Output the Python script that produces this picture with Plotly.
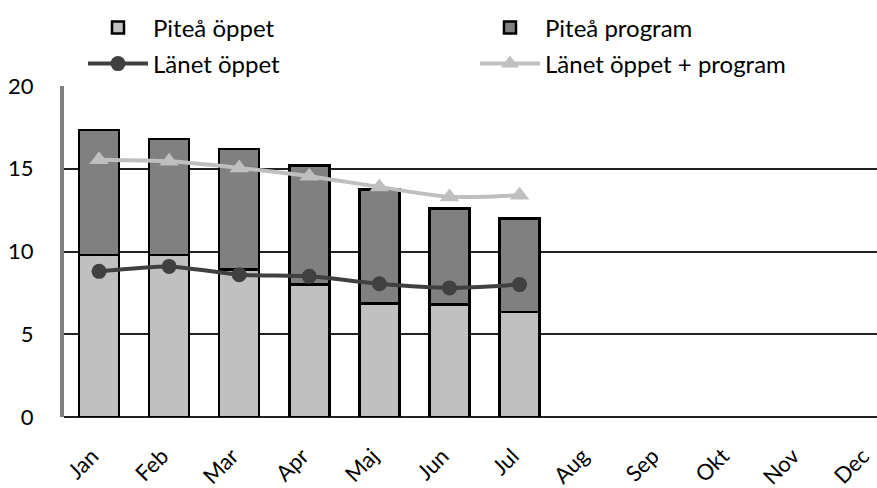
import plotly.graph_objects as go

months = ["Jan", "Feb", "Mar", "Apr", "Maj", "Jun", "Jul", "Aug", "Sep", "Okt", "Nov", "Dec"]
pitea_oppet = [9.8, 9.8, 8.9, 8.0, 6.85, 6.8, 6.35, None, None, None, None, None]
pitea_program = [7.55, 7.0, 7.3, 7.2, 6.9, 5.8, 5.65, None, None, None, None, None]
lanet_oppet = [8.8, 9.1, 8.6, 8.5, 8.05, 7.8, 8.0, None, None, None, None, None]
lanet_total = [15.55, 15.45, 15.05, 14.55, 13.9, 13.3, 13.4, None, None, None, None, None]
y_ticks = [0, 5, 10, 15, 20]

FONT = "Lato"

fig = go.Figure()
fig.add_trace(go.Bar(
    x=months, y=pitea_oppet, name="Piteå öppet",
    marker=dict(color="#C0C0C0", line=dict(color="black", width=2.5)),
    width=0.57, legend="legend",
))
fig.add_trace(go.Bar(
    x=months, y=pitea_program, name="Piteå program",
    marker=dict(color="#808080", line=dict(color="black", width=2.5)),
    width=0.57, legend="legend2",
))
fig.add_trace(go.Scatter(
    x=months, y=lanet_oppet, name="Länet öppet", mode="lines+markers",
    line=dict(color="#404040", width=4, shape="spline", smoothing=0.6),
    marker=dict(symbol="circle", size=15, color="#404040"),
    legend="legend3",
))
fig.add_trace(go.Scatter(
    x=months, y=lanet_total, name="Länet öppet + program", mode="lines+markers",
    line=dict(color="#BFBFBF", width=4, shape="spline", smoothing=0.6),
    marker=dict(symbol="triangle-up", size=17, color="#BFBFBF"),
    legend="legend4",
))

plot_h = 488 - 86 - 71

def ly(px):
    return 1 + (86 - px) / plot_h

def lx(px):
    return (px - 64) / 813

def leg(xpx, ypx):
    return dict(
        x=lx(xpx), y=ly(ypx), xanchor="left", yanchor="middle",
        orientation="h",
        font=dict(family=FONT, size=24, color="black"),
        itemwidth=60, bgcolor="rgba(0,0,0,0)",
    )

fig.update_layout(
    width=877, height=488,
    margin=dict(l=64, r=0, t=86, b=71, autoexpand=False),
    paper_bgcolor="white", plot_bgcolor="white",
    barmode="stack",
    font=dict(family=FONT, size=19, color="black"),
    legend=leg(83, 28),
    legend2=leg(475, 28),
    legend3=leg(83, 64),
    legend4=leg(475, 64),
    showlegend=True,
)
fig.update_xaxes(
    range=[-0.5, 11.1], tickangle=-45, showgrid=False, showline=False,
    tickfont=dict(family=FONT, size=22, color="black"), ticks="",
    ticklabelstandoff=21, ticklabelshift=-7, automargin=False,
)
fig.update_yaxes(
    range=[0, 20], tickvals=y_ticks, showgrid=True, gridcolor="#222222", gridwidth=1.5,
    showline=True, linecolor="#808080", linewidth=4, zeroline=True, zerolinecolor="#222222",
    zerolinewidth=1.5, ticklabelstandoff=22, automargin=False,
    tickfont=dict(family=FONT, size=22, color="black"),
)

fig.write_html(
    "out.html",
    config={"displayModeBar": False},
    post_script="document.body.style.margin='0';document.body.style.overflow='hidden';",
)
